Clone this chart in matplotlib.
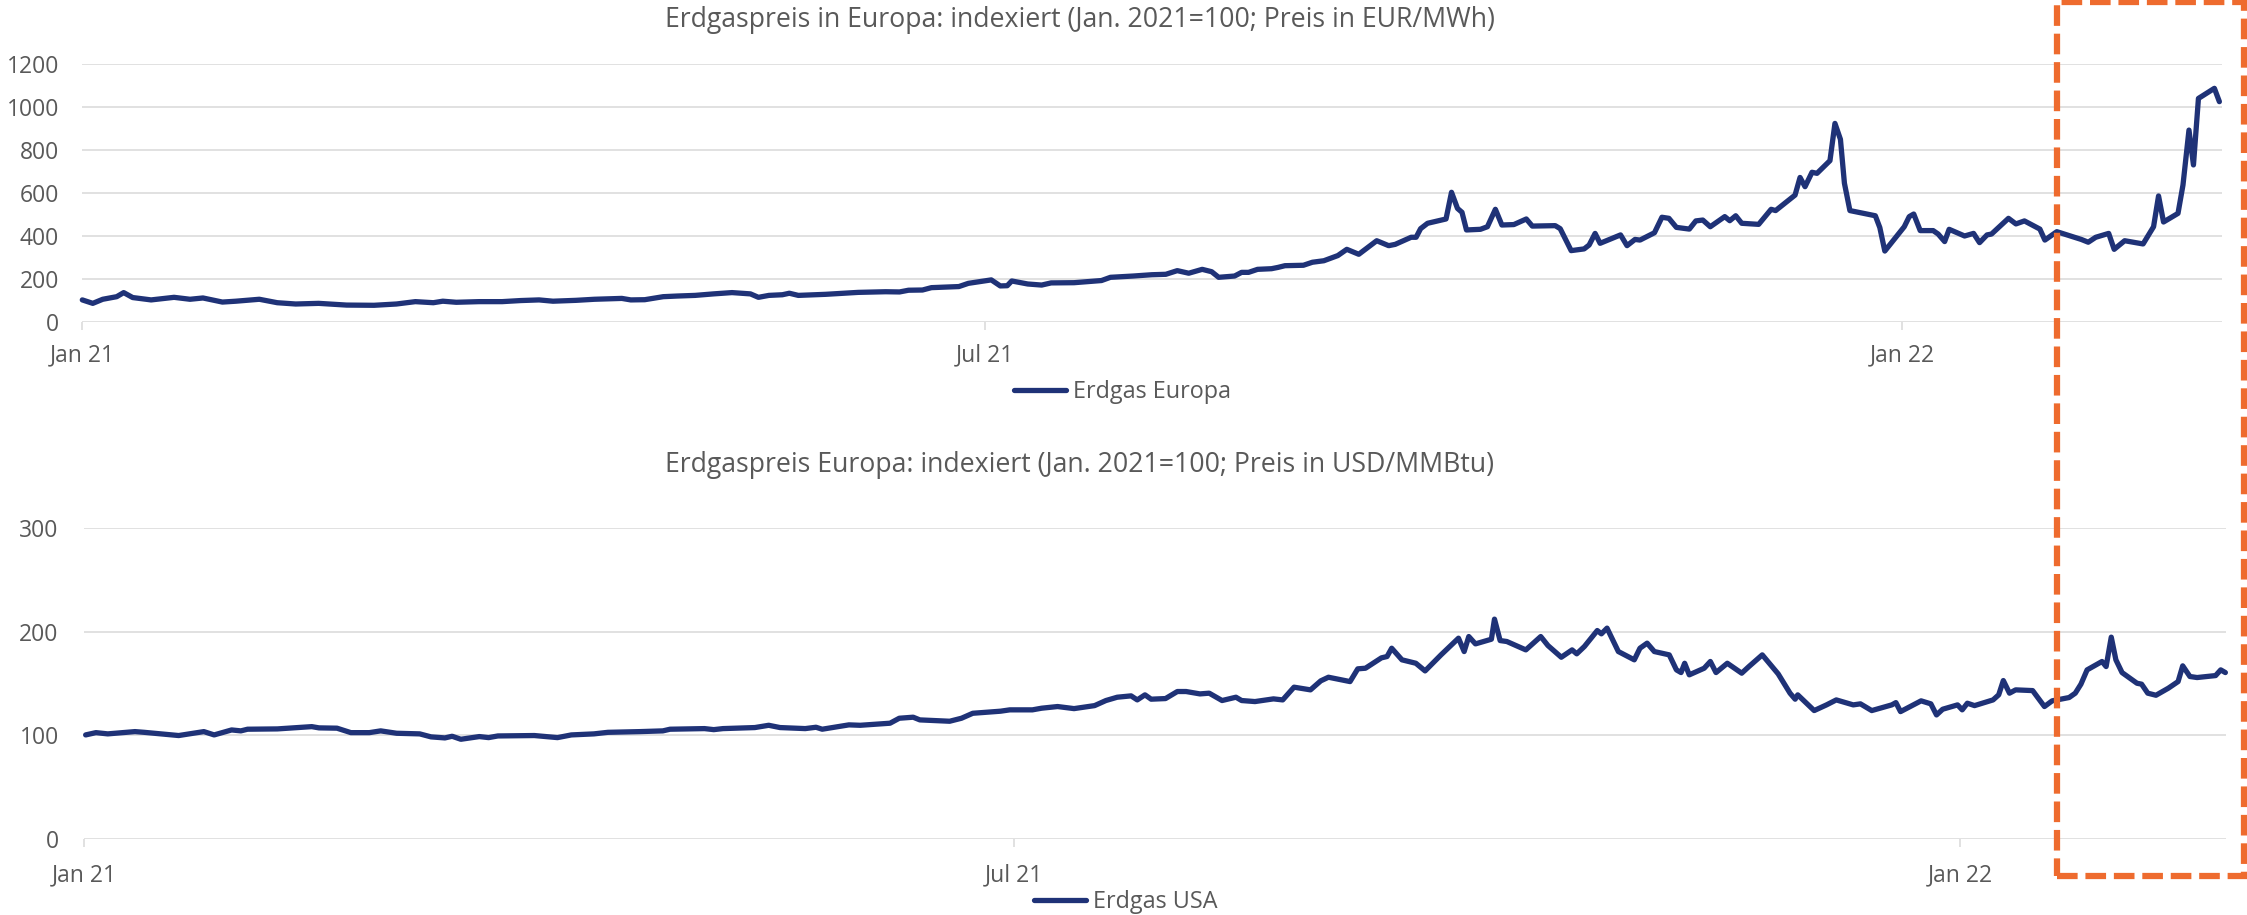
import matplotlib
matplotlib.use("Agg")
import matplotlib.pyplot as plt
from matplotlib.patches import Rectangle
import pandas as pd

START = pd.Timestamp("2021-01-01")

# Erdgas Europa, days since 1 Jan 2021 and index (Jan 2021 = 100)
eu_days = [
    0, 2.1, 4.1, 6.9, 8.3, 10.1, 13.8, 16.1, 18.4, 21.6, 24.2, 28.1, 30.8, 35.5,
    39.1, 42.8, 47.4, 53, 58.5, 63, 66.8, 70.4, 72.3, 75, 79.6, 84.2, 87.9, 91.6,
    94.4, 99, 102.7, 108.2, 110, 112.8, 116.5, 119.3, 122.9, 126.6, 130.3, 134,
    135.6, 137.7, 140.4, 141.8, 143.6, 149.1, 155.6, 161.1, 163.9, 165.7, 168.5,
    170.3, 175.8, 177.7, 182.3, 184.1, 185.5, 186.4, 189.6, 192.4, 194.3, 198.9,
    204.4, 206.2, 210.8, 214.5, 217.3, 219.6, 221.9, 224.6, 226.5, 227.9, 231.1,
    232.5, 233.9, 235.7, 238.5, 239.8, 241.2, 244.9, 246.7, 249.0, 251.8, 253.6,
    256.0, 259.6, 262.0, 263.3, 266.5, 267.5, 268.4, 269.8, 273.5, 274.6, 275.8,
    276.7, 277.6, 280.4, 281.8, 283.4, 284.7, 287.1, 289.6, 290.8, 295.4, 296.4,
    298.6, 301.2, 302.2, 303.4, 304.4, 308.5, 309.8, 311.4, 312.4, 315.3, 316.8,
    318.2, 319.7, 322.3, 323.6, 325.0, 326.5, 329.4, 330.4, 331.6, 332.8, 336.2,
    338.7, 339.6, 343.5, 344.5, 345.5, 346.9, 347.9, 350.5, 351.5, 352.6, 353.4,
    354.5, 359.6, 360.5, 361.5, 365.4, 366.4, 367.3, 368.6, 371.2, 372.2, 373.5,
    374.4, 377.5, 379.3, 380.5, 382.0, 382.9, 386.3, 387.8, 389.5, 392.6, 393.6,
    396.0, 400.9, 402.3, 403.8, 406.4, 407.5, 409.6, 413.3, 415.4, 416.4, 417.4,
    420.3, 421.3, 422.5, 423.4, 424.4, 427.6, 428.6,
]
eu_index = [
    104, 88, 107, 119, 138, 115, 104, 110, 116, 107, 113, 94, 98, 107,
    91, 85, 88, 80, 79, 85, 96, 91, 98, 93, 96, 96, 101, 104,
    98, 102, 107, 111, 104, 105, 119, 122, 125, 132, 138, 132,
    116, 125, 128, 135, 125, 130, 139, 142, 141, 149, 150,
    161, 166, 181, 197, 169, 170, 192, 178, 173, 183, 184,
    194, 209, 215, 221, 223, 240, 228, 246, 235, 209, 215,
    232, 232, 246, 249, 255, 263, 265, 279, 286, 310, 339,
    316, 379, 356, 362, 395, 395, 435, 460, 480, 604, 529,
    511, 429, 432, 444, 525, 452, 454, 480, 447, 449, 435,
    333, 341, 359, 413, 367, 406, 356, 385, 382, 416, 488,
    483, 441, 433, 471, 475, 444, 491, 472, 495, 460, 455,
    525, 519, 591, 673, 630, 697, 692, 751, 924, 850, 646,
    519, 495, 440, 331, 444, 491, 503, 426, 426, 410, 375,
    432, 401, 413, 370, 406, 410, 483, 457, 471, 433, 382,
    421, 385, 372, 395, 413, 339, 379, 364, 444, 587, 466,
    506, 638, 893, 731, 1040, 1087, 1025,
]

# Erdgas USA, days since 1 Jan 2021 and index (Jan 2021 = 100)
us_days = [
    0.3, 2.3, 4.6, 9.9, 11.7, 18.4, 23.3, 25.3, 28.7, 30.5, 31.8, 37.6, 44.3,
    45.7, 49.2, 51.9, 55.5, 57.7, 60.8, 65.3, 67.5, 70.2, 71.6, 73.3, 76.9, 78.7,
    80.5, 87.6, 92.1, 94.8, 99.2, 101.9, 108.2, 112.6, 114.0, 120.7, 122.5, 124.3,
    130.5, 133.2, 135.4, 140.3, 142.4, 143.6, 148.8, 151.0, 156.8, 158.6, 161.3,
    162.6, 168.4, 170.7, 172.9, 178.3, 180.1, 184.5, 186.3, 189.4, 192.6, 196.6,
    198.8, 201.0, 203.7, 204.9, 206.4, 207.6, 210.4, 212.7, 214.4, 217.1, 218.9,
    221.4, 224.1, 225.2, 227.8, 231.4, 233.2, 235.4, 238.6, 240.6, 242.1, 246.3,
    247.8, 249.3, 252.4, 253.5, 254.4, 256.4, 259.1, 260.9, 264.0, 267.4, 268.5,
    269.4, 270.7, 273.8, 274.4, 275.5, 276.8, 280.5, 283.4, 284.8, 287.4, 289.5,
    290.4, 291.9, 294.4, 295.2, 296.3, 298.5, 301.6, 302.7, 304.1, 305.5, 308.4,
    309.8, 310.7, 311.4, 312.3, 315.2, 316.4, 317.5, 319.7, 322.5, 323.9, 326.5,
    329.6, 331.9, 332.9, 333.4, 336.6, 339.0, 340.9, 344.2, 345.6, 347.8, 351.7,
    352.5, 353.4, 357.4, 359.3, 360.4, 361.6, 364.5, 365.4, 366.4, 367.8, 371.4,
    372.5, 373.4, 374.6, 375.8, 379.1, 381.4, 382.9, 386.2, 387.4, 388.5, 389.7,
    392.6, 393.4, 394.4, 395.3, 396.5, 399.4, 400.3, 401.5, 403.1, 405.5, 407.4,
    408.3, 409.7, 411.1, 414.7, 415.7, 416.6,
]
us_index = [
    100.5, 102.7, 101.5, 103.7, 103, 99.9, 103.7, 100.5, 105.3, 104.4, 106, 106.3, 108.5,
    107.3, 107, 102.7, 102.7, 104.4, 102.1, 101.5, 98.6, 97.6, 99.2, 96.3, 98.9, 97.9,
    99.5, 99.9, 97.9, 100.5, 101.5, 103, 103.7, 104.4, 106, 106.6, 105.6, 106.6,
    107.6, 109.8, 107.6, 106.6, 107.9, 106, 110.2, 109.8, 111.8, 116.6, 117.6,
    115, 113.7, 116.6, 121.4, 123.4, 124.7, 124.7, 126.3, 127.9, 125.9, 128.8,
    133.7, 136.9, 138.2, 134.3, 139.2, 135, 135.6, 142.4, 142.4, 140.1, 140.8,
    133.7, 136.9, 133.7, 132.7, 135.3, 134.3, 146.6, 144, 152.7, 156.2, 152,
    164.3, 164.9, 174.9, 176.2, 184.2, 173, 169.7, 162.3, 177.8, 193.9, 181,
    195.5, 188.4, 192.9, 212.3, 191.6, 190.7, 182.6, 195.5, 186.8, 175.5, 182.6,
    178.8, 185.9, 201.3, 198.1, 203.6, 181, 173, 184.2, 189.1, 181, 177.8,
    163.3, 160.7, 169.7, 158.5, 164.9, 171.4, 160.7, 169.7, 160.1, 166.5, 177.8,
    159.4, 140.8, 135, 139.2, 124, 129.5, 134.3, 129.5, 130.5, 124, 129.5,
    131.7, 123, 133.4, 130.5, 119.8, 125.3, 129.5, 124.7, 131.1, 128.8, 134.3,
    139.2, 153, 140.8, 144, 143.3, 127.9, 133.4, 136.6, 140.8, 149.5, 163.3,
    171.4, 166.5, 194.9, 173, 160.7, 150.4, 149.5, 140.8, 138.8, 145.6, 152,
    167.2, 156.9, 155.9, 157.8, 163.3, 160.7,
]

tick_dates = ["2021-01-01", "2021-07-01", "2022-01-01"]
tick_labels = ["Jan 21", "Jul 21", "Jan 22"]

top_title = "Erdgaspreis in Europa: indexiert (Jan. 2021=100; Preis in EUR/MWh)"
bottom_title = "Erdgaspreis Europa: indexiert (Jan. 2021=100; Preis in USD/MMBtu)"

LINE_COLOR = "#1f3277"
GRID_COLOR = "#d9d9d9"
TEXT_COLOR = "#595959"
BOX_COLOR = "#ee6b2e"

plt.rcParams["font.family"] = ["Open Sans", "DejaVu Sans"]

fig = plt.figure(figsize=(22.47, 9.15), dpi=100)


def draw_panel(rect, days, values, xmax_days, yticks, label, legend_xy, xpad, ypad):
    ax = fig.add_axes(rect)
    dates = START + pd.to_timedelta(days, unit="D")
    ax.plot(dates, values, color=LINE_COLOR, lw=3.8, label=label,
            solid_joinstyle="round", solid_capstyle="round", clip_on=False, zorder=3)
    ax.set_xlim(START, START + pd.Timedelta(days=xmax_days))
    ax.set_ylim(yticks[0], yticks[-1])
    ax.set_yticks(yticks)
    ax.set_xticks(pd.to_datetime(tick_dates))
    ax.set_xticklabels(tick_labels)

    for side in ["top", "right", "left", "bottom"]:
        ax.spines[side].set_visible(False)
    ax.set_axisbelow(True)
    ax.yaxis.grid(True, color=GRID_COLOR, lw=1.1)
    ax.tick_params(axis="y", length=0, pad=ypad, labelsize=16.5, labelcolor=TEXT_COLOR)
    ax.tick_params(axis="x", length=5.5, width=1.1, color=GRID_COLOR, pad=xpad,
                   labelsize=16.5, labelcolor=TEXT_COLOR)

    ax.legend(loc="center", bbox_to_anchor=legend_xy, bbox_transform=fig.transFigure,
              frameon=False, fontsize=16.8, labelcolor=TEXT_COLOR,
              handlelength=2.2, handletextpad=0.3, borderpad=0)
    return ax


draw_panel([0.03663, 0.64776, 0.9521, 0.2823], eu_days, eu_index, 429.06,
           [0, 200, 400, 600, 800, 1000, 1200], "Erdgas Europa", (0.4995, 0.5716), 10, 16.8)
draw_panel([0.03743, 0.08306, 0.9534, 0.33956], us_days, us_index, 416.8,
           [0, 100, 200, 300], "Erdgas USA", (0.501, 0.0142), 12, 18.3)

fig.text(0.4806, 0.9708, top_title, ha="center", va="baseline", fontsize=19.2, color=TEXT_COLOR)
fig.text(0.4806, 0.4845, bottom_title, ha="center", va="baseline", fontsize=19.2, color=TEXT_COLOR)

# dashed box around the latest weeks
box = Rectangle((2057 / 2247, 1 - 876 / 915), 187 / 2247, 874 / 915,
                transform=fig.transFigure, fill=False, ec=BOX_COLOR, lw=4.5,
                ls=(0, (3.3, 1.25)), zorder=10)
fig.add_artist(box)

fig.savefig("out.png", dpi=100)
